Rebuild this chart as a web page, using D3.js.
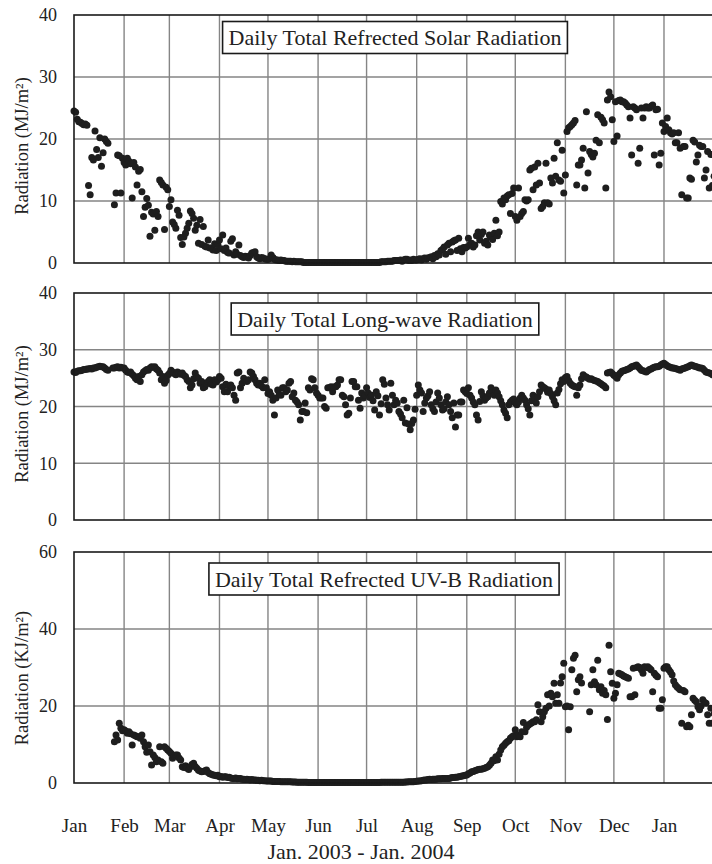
<!DOCTYPE html>
<html><head><meta charset="utf-8">
<script src="https://cdn.jsdelivr.net/npm/d3@7"></script>
<style>body{margin:0;background:#fff}svg{display:block}</style>
</head><body>
<svg id="chart" width="712" height="864"></svg>
<script>
// ---- data (daily values, index = day since 1 Jan 2003) ----
const monthLabels = ["Jan","Feb","Mar","Apr","May","Jun","Jul","Aug","Sep","Oct","Nov","Dec","Jan"];
const solarTicks = [0,10,20,30,40];
const longTicks = [0,10,20,30,40];
const uvbTicks = [0,20,40,60];

const solarStart = 0;
const solar = [
24.5,24.3,23.2,22.8,22.7,22.5,22.3,22.4,22.2,12.5,11.0,17.0,16.6,21.3,18.3,17.0,20.2,15.6,17.8,20.0,19.6,19.3,null,null,null,9.4,11.3,17.4,17.3,11.3,16.9,
16.2,15.8,16.9,16.4,16.0,10.5,16.2,15.5,12.6,14.8,15.1,11.5,7.5,9.0,10.4,9.3,4.3,8.2,7.9,5.3,8.3,7.5,13.4,13.0,12.6,5.4,12.2,11.8,
9.1,10.2,6.6,6.2,5.6,8.5,7.7,4.1,3.0,4.2,4.8,5.6,6.4,8.4,8.0,7.2,5.3,6.1,3.2,7.0,3.0,5.9,2.7,2.6,3.7,2.4,2.4,2.1,3.1,2.0,3.0,
3.7,2.3,4.5,2.0,2.4,1.7,1.6,3.5,3.9,1.3,1.8,1.4,2.9,1.2,1.0,0.9,1.1,1.0,0.8,1.2,1.6,1.7,1.8,1.0,0.8,0.7,0.9,0.8,0.7,0.6,
0.6,0.7,1.3,0.9,0.6,0.5,0.5,0.4,0.5,0.4,0.4,0.3,0.3,0.3,0.3,0.2,0.3,0.2,0.2,0.2,0.2,0.2,0.1,0.1,0.1,0.1,0.1,0.1,0.1,0.1,0.1,
0.1,0.1,0.1,0.1,0.1,0.1,0.1,0.1,0.1,0.1,0.1,0.1,0.1,0.1,0.1,0.1,0.1,0.1,0.1,0.1,0.1,0.1,0.1,0.1,0.1,0.1,0.1,0.1,0.1,0.1,
0.1,0.1,0.1,0.1,0.1,0.1,0.1,0.1,0.1,0.2,0.2,0.2,0.2,0.3,0.3,0.3,0.3,0.4,0.4,0.4,0.4,0.5,0.3,0.5,0.6,0.6,0.4,0.5,0.4,0.6,0.5,
0.5,0.6,0.7,0.5,0.7,0.8,0.6,0.8,0.9,1.0,0.7,1.2,1.0,1.5,1.3,2.0,2.2,2.6,1.4,2.9,3.2,1.8,3.4,3.6,3.7,2.0,4.0,2.3,1.8,2.5,2.4,
2.6,4.0,3.0,3.2,2.6,2.9,4.4,5.0,3.7,4.6,5.0,3.2,3.5,2.9,4.5,4.2,3.8,4.8,6.9,4.4,5.0,9.9,9.5,10.5,10.2,10.8,11.0,8.0,11.2,12.1,
7.5,6.9,12.1,7.5,8.0,8.3,10.2,10.0,10.2,15.0,15.3,11.8,15.5,12.6,16.1,12.9,8.8,9.1,9.7,16.1,9.7,9.5,13.7,12.9,16.9,14.0,19.4,13.4,13.2,18.2,11.3,
14.2,21.2,21.8,22.0,22.3,22.6,23.0,12.6,15.8,15.8,16.6,18.5,12.1,24.4,14.5,18.0,17.5,17.1,17.7,19.8,23.9,19.4,23.5,23.1,22.6,12.1,26.3,27.6,26.8,23.1,
19.6,26.0,20.5,26.2,26.3,26.0,26.0,25.8,25.5,25.2,23.4,17.4,25.2,25.0,24.7,16.1,18.5,25.0,23.4,25.0,25.2,25.0,25.0,25.3,25.5,17.4,24.7,24.8,15.8,17.7,22.6,
21.2,22.0,23.4,21.5,21.0,20.8,21.0,19.4,19.4,21.0,18.5,11.0,18.8,18.8,10.5,10.5,13.7,13.5,19.8,19.5,16.3,17.4,19.0,18.8,18.8,13.7,15.0,18.0,12.1,17.5,12.5,
14.0
];

const longStart = 0;
const longwave = [
26.1,26.0,26.2,26.3,26.3,26.4,26.5,26.5,26.6,26.6,
26.7,26.6,26.8,26.8,26.9,27.0,27.1,27.0,27.0,26.8,
26.5,26.4,null,null,26.8,26.8,26.9,27.0,26.8,26.9,
26.8,26.8,26.4,26.1,26.0,26.1,25.7,25.4,25.0,24.7,
25.3,24.4,25.6,26.1,26.3,26.5,26.4,26.8,27.0,26.9,
27.0,26.6,26.4,25.9,24.7,25.3,24.1,24.6,25.5,25.8,
26.4,26.1,25.8,25.6,26.1,25.9,25.7,25.9,25.5,25.3,
24.7,24.4,23.3,23.8,24.9,25.9,25.2,25.0,24.1,24.4,
23.3,23.5,24.0,24.4,24.7,23.9,23.8,24.7,24.3,24.7,
25.3,25.0,23.5,22.6,23.9,22.6,23.5,23.8,23.3,22.0,
21.1,25.9,26.1,23.3,24.1,25.0,24.6,24.4,24.7,26.1,
25.9,25.3,24.7,24.1,23.8,24.1,23.6,23.3,24.7,23.3,
22.3,22.6,22.0,21.1,18.5,21.5,22.9,22.2,22.0,23.3,
23.3,22.6,22.9,24.1,24.4,21.7,22.4,21.1,20.8,20.3,
17.6,19.1,19.1,20.6,18.9,23.3,22.9,24.9,24.7,23.3,
22.4,22.0,21.5,21.5,21.5,20.0,19.7,23.3,23.3,23.5,
22.6,23.5,23.5,23.8,24.7,24.7,22.0,21.7,20.3,18.5,
18.8,21.5,24.4,24.4,23.5,23.5,21.1,19.7,22.4,21.5,
22.0,23.3,22.4,21.6,22.0,21.0,19.4,22.6,21.9,18.5,
20.5,24.7,23.9,21.5,20.3,19.4,24.1,22.0,20.3,21.1,
20.6,19.1,18.7,18.0,21.1,17.1,19.8,16.9,15.9,17.0,
17.6,19.5,22.0,23.8,22.9,22.4,19.1,20.6,21.5,21.9,
22.6,20.3,19.6,19.1,20.8,22.4,21.5,20.3,19.4,19.6,
20.8,21.7,20.3,19.1,18.0,20.6,16.4,18.5,18.5,20.8,
20.8,22.9,22.6,22.3,23.3,22.0,21.5,20.8,20.3,18.5,
17.6,20.9,22.6,21.9,21.1,21.5,21.7,22.4,23.3,22.8,
22.0,22.9,22.4,21.7,21.0,20.3,19.4,18.8,18.0,20.3,
20.8,21.1,21.3,20.6,20.3,20.8,21.5,22.0,21.5,21.1,
20.3,19.6,18.5,21.0,22.0,21.5,20.6,21.7,22.6,23.8,
23.5,23.3,23.1,22.5,22.9,22.3,21.7,21.0,20.3,22.4,
23.0,24.0,24.7,24.4,25.1,25.3,24.6,24.1,23.8,23.6,
23.5,22.0,23.3,23.8,24.9,25.6,25.3,25.2,25.0,24.8,
24.9,24.7,24.6,24.5,24.4,24.2,24.0,23.8,23.6,23.3,
25.9,26.0,26.1,25.8,25.5,25.3,25.0,25.6,25.9,26.2,
26.3,26.4,26.5,26.6,26.8,27.0,27.1,27.2,27.3,27.0,
26.7,26.4,26.3,26.2,26.1,26.3,26.5,26.6,26.8,26.9,
27.0,27.0,27.1,27.3,27.5,27.6,27.4,27.2,27.0,26.9,
26.8,26.8,26.7,26.6,26.5,26.4,26.6,26.7,26.8,26.9,
27.0,27.2,27.3,27.2,27.1,27.0,26.9,26.8,26.8,26.7,
26.4,26.1,26.0,25.9,25.8,25.6,25.5
];

const uvbStart = 25;
const uvb = [
10.7,12.5,11.2,15.5,14.2,13.6,13.8,13.5,12.9,13.3,
12.8,9.9,12.5,12.3,12.0,12.0,11.6,12.5,10.7,9.4,
8.0,9.9,8.1,4.7,7.3,6.6,5.5,6.0,9.4,5.5,
5.1,9.4,9.0,8.6,8.2,7.7,6.4,7.0,7.3,7.3,
6.5,6.0,4.2,4.0,4.5,3.8,3.5,4.2,4.8,5.1,
4.3,3.8,3.3,3.1,2.9,3.0,3.2,3.4,2.7,2.4,
2.3,2.1,2.0,1.9,2.0,1.6,1.7,1.5,1.6,1.6,
1.4,1.5,1.3,1.2,1.2,1.3,1.1,1.2,1.2,1.0,
1.0,0.9,0.95,0.9,0.8,0.9,0.8,0.8,0.7,0.7,
0.6,0.7,0.6,0.6,0.5,0.5,0.5,0.5,0.4,0.4,
0.4,0.4,0.4,0.35,0.35,0.3,0.3,0.3,0.3,0.3,
0.25,0.25,0.25,0.2,0.2,0.2,0.2,0.2,0.2,0.2,
0.15,0.15,0.15,0.15,0.15,0.15,0.15,0.15,0.15,0.15,
0.15,0.15,0.15,0.15,0.15,0.15,0.15,0.15,0.15,0.15,
0.15,0.15,0.15,0.15,0.15,0.15,0.15,0.15,0.15,0.15,
0.15,0.15,0.15,0.15,0.15,0.15,0.15,0.15,0.15,0.15,
0.15,0.15,0.15,0.15,0.15,0.2,0.2,0.2,0.2,0.2,
0.2,0.2,0.2,0.2,0.2,0.2,0.2,0.2,0.2,0.2,
0.25,0.25,0.3,0.3,0.3,0.35,0.4,0.45,0.5,0.55,
0.6,0.7,0.75,0.8,
0.9,0.95,0.9,1.0,1.0,1.0,1.1,1.1,1.1,1.2,
1.2,1.2,1.2,1.2,1.3,1.4,1.4,1.5,1.5,1.6,
1.7,1.8,1.9,2.0,2.1,2.4,2.6,2.9,3.0,3.2,
3.3,3.5,3.6,3.6,3.7,3.8,4.0,4.2,4.6,5.1,
6.0,5.8,6.8,6.0,7.5,8.6,9.4,9.8,10.3,10.7,
11.0,11.6,12.0,12.3,13.8,12.0,12.4,12.0,13.3,15.7,
13.3,14.5,15.0,15.3,15.6,15.9,15.9,16.4,20.3,18.5,
15.9,17.2,18.5,19.4,22.9,20.0,23.3,22.4,25.9,20.7,
22.9,20.7,26.0,27.6,31.1,19.8,20.0,13.8,19.8,29.4,
32.4,33.2,23.7,26.8,27.6,26.0,null,null,null,null,
18.5,25.5,29.4,26.3,25.5,31.9,24.2,25.0,23.3,24.0,
22.9,16.5,35.8,28.9,25.9,22.0,23.3,25.5,28.5,28.3,
28.1,27.8,27.6,27.4,27.2,22.4,22.4,29.8,22.9,30.0,
30.2,30.0,29.4,28.5,30.2,30.0,30.2,29.8,29.4,23.7,
28.5,28.0,27.6,19.4,19.4,21.6,29.8,30.2,30.2,29.4,
28.8,28.1,26.5,25.5,25.0,24.6,24.2,15.5,24.0,23.7,
14.6,15.0,14.6,17.7,22.0,21.5,21.1,19.8,19.0,20.0,
21.6,21.0,20.7,17.7,15.5,19.4,15.5,18.0
];

const titles = ["Daily Total Refrected Solar Radiation","Daily Total Long-wave Radiation","Daily Total Refrected UV-B Radiation"];
const yLabels = ["Radiation (MJ/m\u00B2)","Radiation (MJ/m\u00B2)","Radiation (KJ/m\u00B2)"];
const xTitle = "Jan. 2003 - Jan. 2004";

// ---- layout ----
const FONT = "'Liberation Serif','Times New Roman',serif";
const svg = d3.select("#chart");
const x0 = 74, pxPerDay = 1.6164;
const dStart = Date.UTC(2003,0,1), dEnd = Date.UTC(2004,1,29);
const x = d3.scaleUtc().domain([dStart, dEnd]).range([x0, x0 + pxPerDay*424]);
const dayDate = d => new Date(dStart + d*86400000);

const panels = [
  {data: solar, start: solarStart, ticks: solarTicks, top: 15, bottom: 263, title: titles[0], ylab: yLabels[0], tcx: 395, tcy: 37.5, ylc: 146},
  {data: longwave, start: longStart, ticks: longTicks, top: 293, bottom: 520, title: titles[1], ylab: yLabels[1], tcx: 385, tcy: 319, ylc: 414},
  {data: uvb, start: uvbStart, ticks: uvbTicks, top: 552, bottom: 783, title: titles[2], ylab: yLabels[2], tcx: 384, tcy: 579, ylc: 678}
];

const monthStarts = d3.utcMonth.range(new Date(Date.UTC(2003,0,1)), new Date(Date.UTC(2004,1,2)));
const xRight = x.range()[1];

panels.forEach((p, i) => {
  const y = d3.scaleLinear().domain([0, d3.max(p.ticks)]).range([p.bottom, p.top]);
  const g = svg.append("g");
  // grid
  g.selectAll(".vg").data(monthStarts.slice(1)).join("line")
    .attr("x1", d => x(d)).attr("x2", d => x(d))
    .attr("y1", p.top).attr("y2", p.bottom)
    .attr("stroke", "#858585").attr("stroke-width", 1.4);
  g.selectAll(".hg").data(p.ticks.slice(1, -1)).join("line")
    .attr("x1", x0).attr("x2", xRight)
    .attr("y1", d => y(d)).attr("y2", d => y(d))
    .attr("stroke", "#858585").attr("stroke-width", 1.4);
  // title box (drawn under the points)
  const tb = g.append("g");
  const boxRect = tb.append("rect");
  const t = tb.append("text").attr("x", p.tcx).attr("y", p.tcy)
    .attr("text-anchor", "middle").attr("dominant-baseline", "central")
    .attr("font-family", FONT).attr("font-size", 22).attr("fill", "#222").text(p.title);
  const bb = t.node().getBBox();
  boxRect.attr("x", bb.x - 6).attr("y", p.tcy - 16).attr("width", bb.width + 12).attr("height", 32)
    .attr("fill", "#fff").attr("stroke", "#1a1a1a").attr("stroke-width", 1.6);
  // points
  const pts = p.data.map((v, k) => ({d: p.start + k, v})).filter(o => o.v !== null);
  g.selectAll("circle").data(pts).join("circle")
    .attr("cx", o => x(dayDate(o.d))).attr("cy", o => y(o.v))
    .attr("r", 3.5).attr("fill", "#1e1e1e");
  // frame
  g.append("rect").attr("x", x0).attr("y", p.top)
    .attr("width", xRight - x0).attr("height", p.bottom - p.top)
    .attr("fill", "none").attr("stroke", "#1a1a1a").attr("stroke-width", 1.6);
  // y axis
  const ax = g.append("g").attr("transform", `translate(${x0},0)`)
    .call(d3.axisLeft(y).tickValues(p.ticks).tickSize(0).tickPadding(17).tickFormat(d3.format("d")));
  ax.select(".domain").remove();
  ax.selectAll("text").attr("font-family", FONT).attr("font-size", 18).attr("fill", "#222");
  // y label
  g.append("text").attr("transform", `translate(22,${p.ylc}) rotate(-90)`)
    .attr("text-anchor", "middle").attr("dominant-baseline", "central")
    .attr("font-family", FONT).attr("font-size", 18.5).attr("fill", "#222").text(p.ylab);

  if (i === 2) {
    const xa = g.append("g").attr("transform", `translate(0,${p.bottom})`)
      .call(d3.axisBottom(x).tickValues(monthStarts.slice(0, 13)).tickSize(0).tickPadding(36)
        .tickFormat((d, k) => monthLabels[k]));
    xa.select(".domain").remove();
    xa.selectAll("text").attr("font-family", FONT).attr("font-size", 19).attr("fill", "#222");
    g.append("text").attr("x", 361).attr("y", 859).attr("text-anchor", "middle")
      .attr("font-family", FONT).attr("font-size", 22).attr("fill", "#222").text(xTitle);
  }
});
</script>
</body></html>
